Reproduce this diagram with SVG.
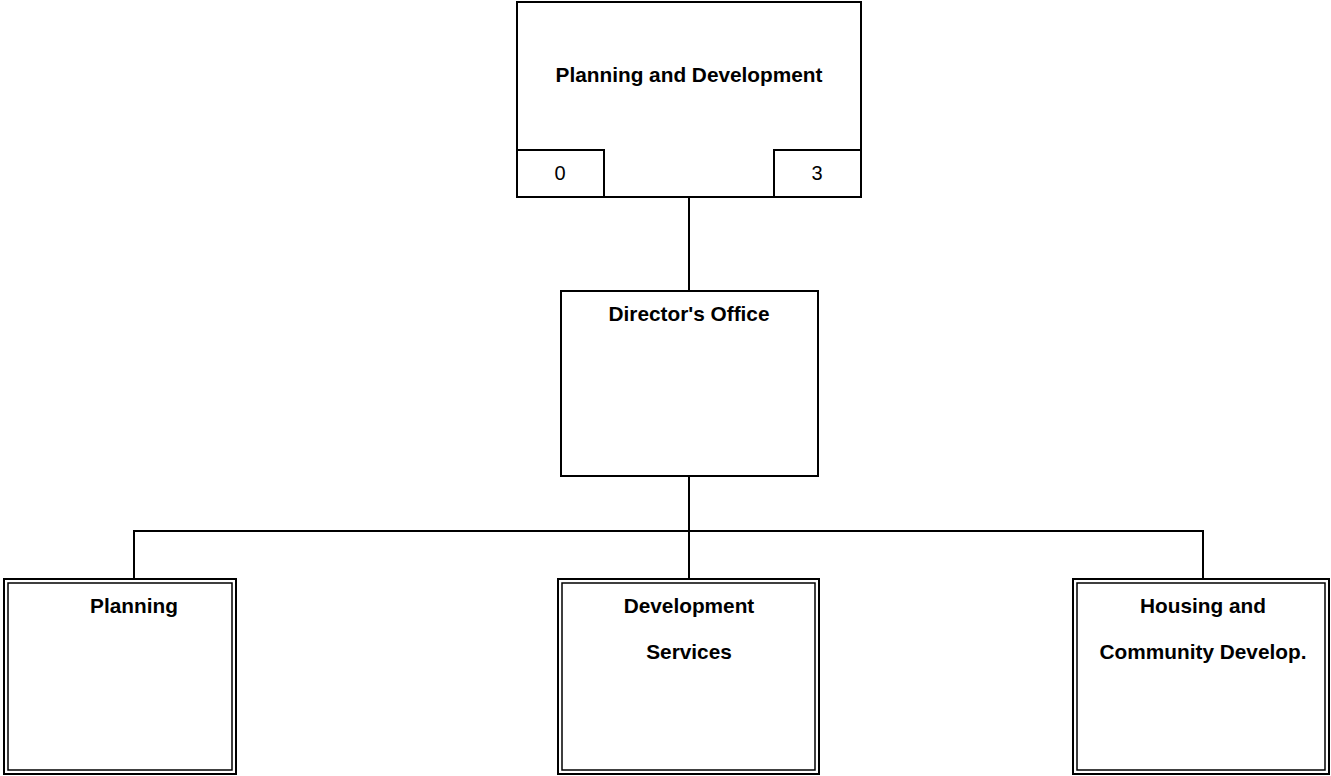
<svg xmlns="http://www.w3.org/2000/svg" width="1331" height="776" viewBox="0 0 1331 776">
<style>
.box{fill:#fff;stroke:#000;stroke-width:2}
.inner{fill:none;stroke:#000;stroke-width:1.5}
.t{font-family:"Liberation Sans",Arial,sans-serif;font-weight:bold;font-size:20.8px;text-anchor:middle;fill:#000}
.n{font-family:"Liberation Sans",Arial,sans-serif;font-size:20px;text-anchor:middle;fill:#000}
.c{fill:none;stroke:#000;stroke-width:2}
</style>
<rect width="1331" height="776" fill="#fff"/>
<g id="connectors">
<line class="c" x1="689" y1="197" x2="689" y2="291"/>
<line class="c" x1="689" y1="476" x2="689" y2="579"/>
<line class="c" x1="134" y1="531" x2="1203" y2="531"/>
<line class="c" x1="134" y1="530" x2="134" y2="579"/>
<line class="c" x1="1203" y1="530" x2="1203" y2="579"/>
</g>
<g id="node-planning-development">
<rect class="box" x="517" y="2" width="344" height="195"/>
<text class="t" x="689" y="82">Planning and Development</text>
<rect class="box" x="517" y="150" width="87" height="47"/>
<text class="n" x="560" y="180">0</text>
<rect class="box" x="774" y="150" width="87" height="47"/>
<text class="n" x="817" y="180">3</text>
</g>
<g id="node-directors-office">
<rect class="box" x="561" y="291" width="257" height="185"/>
<text class="t" x="689" y="321">Director's Office</text>
</g>
<g id="node-planning">
<rect class="box" x="4" y="579" width="232" height="195"/>
<rect class="inner" x="8" y="583" width="224" height="187"/>
<text class="t" x="134" y="613">Planning</text>
</g>
<g id="node-development-services">
<rect class="box" x="558" y="579" width="261" height="195"/>
<rect class="inner" x="562" y="583" width="253" height="187"/>
<text class="t" x="689" y="613">Development</text>
<text class="t" x="689" y="659">Services</text>
</g>
<g id="node-housing">
<rect class="box" x="1073" y="579" width="256" height="195"/>
<rect class="inner" x="1077" y="583" width="248" height="187"/>
<text class="t" x="1203" y="613">Housing and</text>
<text class="t" x="1203" y="659">Community Develop.</text>
</g>
</svg>
